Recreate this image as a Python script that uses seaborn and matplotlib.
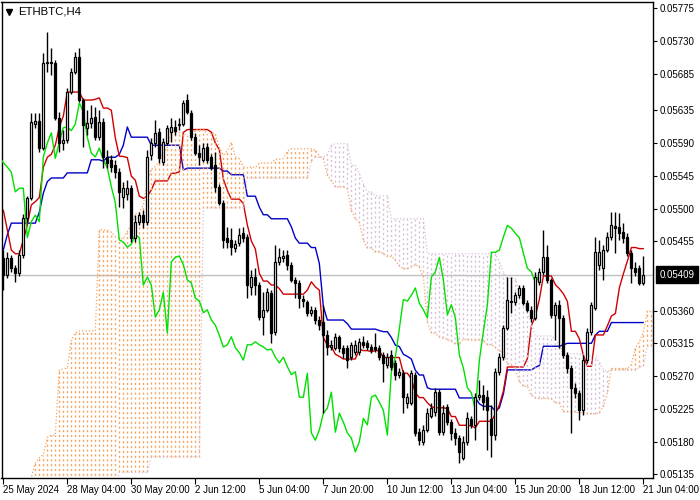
import numpy as np
import pandas as pd
import matplotlib
matplotlib.use("Agg")
import matplotlib.pyplot as plt
import matplotlib.transforms as mtransforms
import seaborn as sns

chart_title = "ETHBTC,H4"

open_ = [0.05432, 0.05409, 0.05432, 0.05418, 0.05411, 0.05436, 0.05487, 0.05515, 0.05616, 0.05620,
         0.05583, 0.05700, 0.05701, 0.05700, 0.05624, 0.05590, 0.05594, 0.05660, 0.05688, 0.05708,
         0.05649, 0.05611, 0.05617, 0.05626, 0.05598, 0.05619, 0.05571, 0.05567, 0.05560, 0.05550,
         0.05516, 0.05520, 0.05528, 0.05460, 0.05482, 0.05491, 0.05482, 0.05574, 0.05590, 0.05605,
         0.05564, 0.05590, 0.05605, 0.05612, 0.05615, 0.05616, 0.05649, 0.05631, 0.05598, 0.05576,
         0.05567, 0.05585, 0.05571, 0.05560, 0.05530, 0.05508, 0.05460, 0.05457, 0.05446, 0.05453,
         0.05466, 0.05461, 0.05392, 0.05406, 0.05395, 0.05351, 0.05361, 0.05384, 0.05331, 0.05427,
         0.05432, 0.05436, 0.05423, 0.05402, 0.05398, 0.05376, 0.05372, 0.05357, 0.05361, 0.05347,
         0.05344, 0.05326, 0.05310, 0.05309, 0.05324, 0.05309, 0.05309, 0.05296, 0.05303, 0.05303,
         0.05317, 0.05315, 0.05310, 0.05310, 0.05309, 0.05299, 0.05285, 0.05299, 0.05288, 0.05272,
         0.05274, 0.05233, 0.05233, 0.05272, 0.05193, 0.05179, 0.05196, 0.05215, 0.05221, 0.05248,
         0.05193, 0.05227, 0.05207, 0.05192, 0.05185, 0.05158, 0.05180, 0.05211, 0.05203, 0.05241,
         0.05244, 0.05241, 0.05211, 0.05189, 0.05276, 0.05296, 0.05336, 0.05372, 0.05372, 0.05381,
         0.05391, 0.05370, 0.05361, 0.05350, 0.05399, 0.05413, 0.05433, 0.05402, 0.05354, 0.05368,
         0.05350, 0.05299, 0.05281, 0.05254, 0.05247, 0.05223, 0.05292, 0.05331, 0.05364, 0.05423,
         0.05418, 0.05443, 0.05461, 0.05476, 0.05475, 0.05468, 0.05461, 0.05439, 0.05418, 0.05418,
         0.05398]
high = [0.05443, 0.05440, 0.05436, 0.05423, 0.05443, 0.05492, 0.05517, 0.05631, 0.05631, 0.05631,
        0.05714, 0.05742, 0.05720, 0.05704, 0.05633, 0.05608, 0.05666, 0.05693, 0.05715, 0.05720,
        0.05652, 0.05635, 0.05642, 0.05639, 0.05635, 0.05624, 0.05580, 0.05574, 0.05567, 0.05556,
        0.05537, 0.05539, 0.05532, 0.05491, 0.05495, 0.05498, 0.05580, 0.05597, 0.05622, 0.05611,
        0.05597, 0.05615, 0.05624, 0.05622, 0.05624, 0.05649, 0.05657, 0.05635, 0.05604, 0.05587,
        0.05590, 0.05590, 0.05575, 0.05578, 0.05534, 0.05512, 0.05475, 0.05473, 0.05457, 0.05473,
        0.05475, 0.05465, 0.05416, 0.05418, 0.05399, 0.05385, 0.05391, 0.05388, 0.05450, 0.05446,
        0.05443, 0.05443, 0.05427, 0.05406, 0.05402, 0.05381, 0.05375, 0.05366, 0.05365, 0.05353,
        0.05368, 0.05333, 0.05320, 0.05329, 0.05326, 0.05313, 0.05313, 0.05317, 0.05320, 0.05322,
        0.05325, 0.05320, 0.05314, 0.05329, 0.05313, 0.05303, 0.05302, 0.05306, 0.05292, 0.05281,
        0.05278, 0.05247, 0.05278, 0.05276, 0.05199, 0.05203, 0.05226, 0.05233, 0.05254, 0.05252,
        0.05230, 0.05232, 0.05211, 0.05199, 0.05189, 0.05188, 0.05221, 0.05215, 0.05247, 0.05265,
        0.05258, 0.05251, 0.05230, 0.05281, 0.05302, 0.05340, 0.05406, 0.05406, 0.05385, 0.05395,
        0.05395, 0.05375, 0.05366, 0.05413, 0.05418, 0.05471, 0.05450, 0.05405, 0.05372, 0.05375,
        0.05354, 0.05303, 0.05285, 0.05261, 0.05251, 0.05299, 0.05336, 0.05372, 0.05461, 0.05457,
        0.05450, 0.05468, 0.05495, 0.05495, 0.05494, 0.05480, 0.05467, 0.05443, 0.05427, 0.05423,
        0.05435]
low = [0.05388, 0.05405, 0.05413, 0.05399, 0.05407, 0.05432, 0.05482, 0.05512, 0.05611, 0.05578,
       0.05580, 0.05688, 0.05683, 0.05622, 0.05578, 0.05580, 0.05590, 0.05657, 0.05685, 0.05646,
       0.05584, 0.05601, 0.05611, 0.05594, 0.05594, 0.05556, 0.05556, 0.05550, 0.05542, 0.05502,
       0.05501, 0.05512, 0.05454, 0.05454, 0.05477, 0.05473, 0.05477, 0.05567, 0.05585, 0.05563,
       0.05560, 0.05587, 0.05591, 0.05601, 0.05608, 0.05613, 0.05630, 0.05594, 0.05574, 0.05560,
       0.05564, 0.05563, 0.05553, 0.05523, 0.05505, 0.05446, 0.05446, 0.05436, 0.05440, 0.05449,
       0.05454, 0.05377, 0.05381, 0.05381, 0.05347, 0.05326, 0.05358, 0.05315, 0.05326, 0.05423,
       0.05427, 0.05416, 0.05399, 0.05377, 0.05363, 0.05365, 0.05353, 0.05353, 0.05342, 0.05333,
       0.05219, 0.05299, 0.05306, 0.05306, 0.05303, 0.05295, 0.05281, 0.05292, 0.05299, 0.05299,
       0.05309, 0.05306, 0.05302, 0.05303, 0.05292, 0.05262, 0.05281, 0.05278, 0.05265, 0.05267,
       0.05219, 0.05226, 0.05230, 0.05188, 0.05175, 0.05175, 0.05193, 0.05212, 0.05215, 0.05189,
       0.05189, 0.05203, 0.05182, 0.05175, 0.05151, 0.05155, 0.05175, 0.05199, 0.05182, 0.05237,
       0.05223, 0.05169, 0.05159, 0.05182, 0.05272, 0.05292, 0.05333, 0.05357, 0.05368, 0.05377,
       0.05368, 0.05358, 0.05344, 0.05347, 0.05395, 0.05409, 0.05398, 0.05350, 0.05320, 0.05309,
       0.05295, 0.05274, 0.05192, 0.05240, 0.05210, 0.05217, 0.05288, 0.05326, 0.05361, 0.05416,
       0.05402, 0.05440, 0.05457, 0.05439, 0.05457, 0.05453, 0.05435, 0.05398, 0.05407, 0.05395,
       0.05395]
close = [0.05409, 0.05432, 0.05418, 0.05411, 0.05436, 0.05487, 0.05515, 0.05619, 0.05620, 0.05583,
         0.05700, 0.05701, 0.05700, 0.05624, 0.05590, 0.05594, 0.05660, 0.05688, 0.05708, 0.05649,
         0.05615, 0.05617, 0.05624, 0.05598, 0.05619, 0.05571, 0.05563, 0.05557, 0.05550, 0.05523,
         0.05528, 0.05528, 0.05460, 0.05482, 0.05491, 0.05482, 0.05571, 0.05590, 0.05604, 0.05569,
         0.05591, 0.05611, 0.05612, 0.05607, 0.05616, 0.05645, 0.05633, 0.05598, 0.05576, 0.05571,
         0.05583, 0.05567, 0.05556, 0.05530, 0.05508, 0.05457, 0.05454, 0.05447, 0.05451, 0.05464,
         0.05460, 0.05395, 0.05406, 0.05395, 0.05351, 0.05361, 0.05385, 0.05329, 0.05427, 0.05433,
         0.05435, 0.05423, 0.05402, 0.05398, 0.05377, 0.05373, 0.05357, 0.05361, 0.05347, 0.05340,
         0.05326, 0.05310, 0.05313, 0.05324, 0.05309, 0.05302, 0.05292, 0.05313, 0.05313, 0.05317,
         0.05313, 0.05310, 0.05306, 0.05307, 0.05296, 0.05288, 0.05296, 0.05283, 0.05272, 0.05276,
         0.05241, 0.05241, 0.05274, 0.05192, 0.05182, 0.05196, 0.05219, 0.05226, 0.05248, 0.05193,
         0.05219, 0.05207, 0.05192, 0.05185, 0.05166, 0.05180, 0.05212, 0.05203, 0.05241, 0.05244,
         0.05234, 0.05223, 0.05189, 0.05276, 0.05296, 0.05336, 0.05375, 0.05373, 0.05381, 0.05391,
         0.05370, 0.05361, 0.05350, 0.05406, 0.05413, 0.05433, 0.05402, 0.05354, 0.05368, 0.05350,
         0.05299, 0.05281, 0.05254, 0.05247, 0.05223, 0.05292, 0.05331, 0.05368, 0.05440, 0.05440,
         0.05443, 0.05461, 0.05477, 0.05473, 0.05466, 0.05460, 0.05439, 0.05418, 0.05413, 0.05398,
         0.05409]

tenkan_start = [0.05498, 0.05471, 0.05443, 0.05438, 0.05438, 0.05457, 0.05477, 0.05505]
kijun_start = [0.05443, 0.05464, 0.05480, 0.05480, 0.05480, 0.05480, 0.05480, 0.05480, 0.05480,
               0.05495, 0.05521, 0.05537, 0.05542, 0.05542, 0.05542, 0.05542, 0.05549, 0.05549,
               0.05549, 0.05549, 0.05549, 0.05549, 0.05567, 0.05567, 0.05567]
span_a_start = [0.05107, 0.05107, 0.05107, 0.05107, 0.05107, 0.05107, 0.05107, 0.05131, 0.05151,
                0.05158, 0.05162, 0.05186, 0.05189, 0.05189, 0.05278, 0.05280, 0.05281, 0.05320,
                0.05329, 0.05332, 0.05332, 0.05332, 0.05332, 0.05332, 0.05471, 0.05471]
span_b_start = [0.05114] * 29 + [0.05138] * 8 + [0.05159] * 13 + [0.05501] * 11 + [0.05542] * 16

date_label_bars = [0, 16, 32, 48, 64, 80, 96, 112, 128, 144, 160]
date_labels = ["25 May 2024", "28 May 04:00", "30 May 20:00", "2 Jun 12:00", "5 Jun 04:00",
               "7 Jun 20:00", "10 Jun 12:00", "13 Jun 04:00", "15 Jun 20:00", "18 Jun 12:00",
               "21 Jun 04:00"]
price_ticks = [0.05775, 0.05730, 0.05685, 0.05635, 0.05590, 0.05545, 0.05500, 0.05455,
               0.05360, 0.05315, 0.05270, 0.05225, 0.05180, 0.05135]

TENKAN_P, KIJUN_P, SENKOU_P, SHIFT = 9, 26, 52, 26

sns.set_style("white")
plt.rcParams['font.family'] = ['Liberation Sans', 'DejaVu Sans']

o = np.array(open_); h = np.array(high); l = np.array(low); c = np.array(close)
n = len(c)
idx = np.arange(n)

tenkan = np.full(n, np.nan)
tenkan[:len(tenkan_start)] = tenkan_start
for i in range(TENKAN_P - 1, n):
    tenkan[i] = (h[i - TENKAN_P + 1:i + 1].max() + l[i - TENKAN_P + 1:i + 1].min()) / 2
kijun = np.full(n, np.nan)
kijun[:len(kijun_start)] = kijun_start
for i in range(KIJUN_P - 1, n):
    kijun[i] = (h[i - KIJUN_P + 1:i + 1].max() + l[i - KIJUN_P + 1:i + 1].min()) / 2

m = n + SHIFT
span_a = np.full(m, np.nan)
span_a[:len(span_a_start)] = span_a_start
span_a[SHIFT:SHIFT + n] = (tenkan + kijun) / 2
span_b = np.full(m, np.nan)
span_b[:len(span_b_start)] = span_b_start
for i in range(SENKOU_P - 1, n):
    span_b[i + SHIFT] = (h[i - SENKOU_P + 1:i + 1].max() + l[i - SENKOU_P + 1:i + 1].min()) / 2

fig = plt.figure(figsize=(7, 5), dpi=100)
ax = fig.add_axes([1.5 / 700, 22 / 500, 651.5 / 700, 476.5 / 500])
ax.set_facecolor('white')

# current price line
ax.axhline(c[-1], color='#c0c0c0', lw=1, zorder=1)

# tenkan / kijun (drawn under the cloud hatch)
sns.lineplot(x=idx, y=kijun, ax=ax, color='#0000c8', lw=1, zorder=2, estimator=None, sort=False)
sns.lineplot(x=idx, y=tenkan, ax=ax, color='#d00000', lw=1, zorder=2, estimator=None, sort=False)

# cloud hatch
cidx = np.arange(m)
ok = ~np.isnan(span_a) & ~np.isnan(span_b)
up = ok & (span_a >= span_b)
dn = ok & (span_a < span_b)
dash = [(0, (1.5, 2.0))]
ax.vlines(cidx[up], np.minimum(span_a, span_b)[up], np.maximum(span_a, span_b)[up],
          colors='#F4A460', linestyles=dash, lw=1.0, zorder=3)
ax.vlines(cidx[dn], np.minimum(span_a, span_b)[dn], np.maximum(span_a, span_b)[dn],
          colors='#D8BFD8', linestyles=dash, lw=1.0, zorder=3)
sns.lineplot(x=cidx, y=span_a, ax=ax, color='#F4A460', lw=0.9, linestyle=':', zorder=3,
             estimator=None, sort=False)
sns.lineplot(x=cidx, y=span_b, ax=ax, color='#D8BFD8', lw=0.9, linestyle=':', zorder=3,
             estimator=None, sort=False)

# chikou
sns.lineplot(x=idx - SHIFT, y=c, ax=ax, color='#00e000', lw=1, zorder=4, estimator=None, sort=False)

# candles
ax.vlines(idx, l, h, colors='black', lw=1, zorder=5)
bull = c >= o
body_lo = np.minimum(o, c)
body_h = np.abs(c - o)
ax.bar(idx[bull], body_h[bull], bottom=body_lo[bull], width=0.55, color='white',
       edgecolor='black', linewidth=0.9, zorder=6)
ax.bar(idx[~bull], body_h[~bull], bottom=body_lo[~bull], width=0.55, color='black',
       edgecolor='black', linewidth=0.9, zorder=6)

ax.set_xlim(-0.45, 162.4)
ax.set_ylim(0.051301, 0.057843)
ax.set_xlabel("")
ax.set_ylabel("")

ax.yaxis.tick_right()
ax.set_yticks(price_ticks)
ax.set_yticklabels([f"{v:.5f}" for v in price_ticks])
ax.set_xticks(date_label_bars)
ax.set_xticklabels(date_labels)
for lbl in ax.get_xticklabels():
    lbl.set_ha('left')
ax.tick_params(axis='y', which='both', right=True, left=False, length=3, width=0.8,
               color='black', labelsize=7, pad=2, labelcolor='black')
ax.tick_params(axis='x', which='both', bottom=True, length=4, width=0.8,
               color='black', labelsize=7, pad=1, labelcolor='black')
for s in ax.spines.values():
    s.set_visible(True)
    s.set_color('black')
    s.set_linewidth(1)

# current price label box
trans = mtransforms.blended_transform_factory(ax.transAxes, ax.transData)
ax.text(1.010, c[-1], f"{c[-1]:.5f}", transform=trans, ha='left', va='center', fontsize=7,
        color='white', zorder=10, clip_on=False,
        bbox=dict(boxstyle='square,pad=0.35', fc='black', ec='black'))

# title
ax.plot([0.011], [0.979], marker='v', color='black', ms=4.5, transform=ax.transAxes,
        clip_on=False, zorder=10)
ax.text(0.025, 0.979, chart_title, transform=ax.transAxes, ha='left', va='center',
        fontsize=8.2, color='black', zorder=10)

fig.savefig("out.png", dpi=100)
